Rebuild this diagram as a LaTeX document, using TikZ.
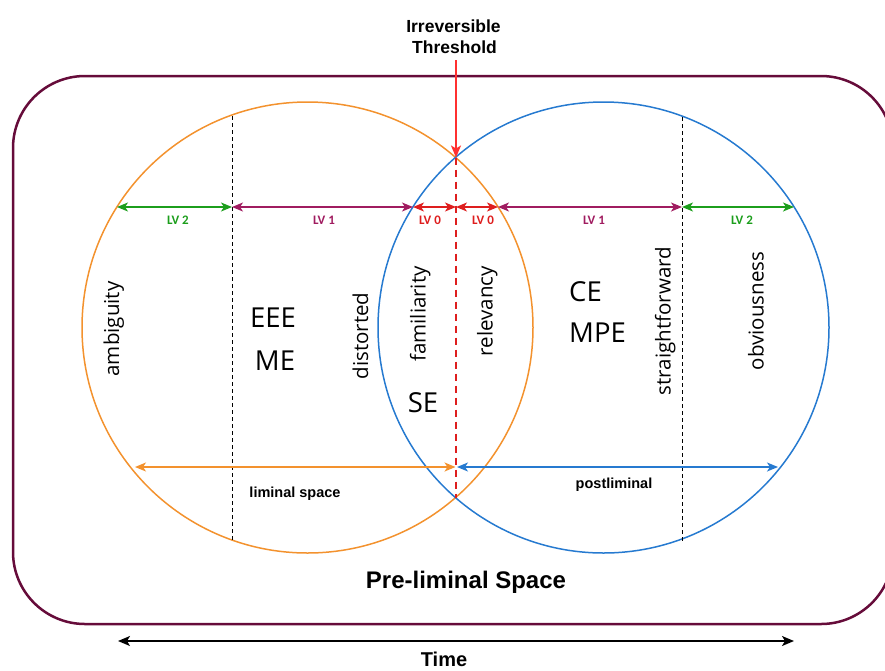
\documentclass[tikz,border=0pt]{standalone}
\usepackage{fontspec}
\setmainfont{Liberation Sans}
\newfontfamily\uifont{Open Sans}
\newfontfamily\lvfont{Carlito}
\usetikzlibrary{arrows.meta}

\definecolor{preC}{RGB}{243,146,46}
\definecolor{postC}{RGB}{38,122,208}
\definecolor{frameC}{RGB}{102,12,58}
\definecolor{lvtwoC}{RGB}{28,158,28}
\definecolor{lvoneC}{RGB}{160,28,96}
\definecolor{lvzeroC}{RGB}{222,30,30}
\definecolor{threshC}{RGB}{255,48,48}

\begin{document}
\begin{tikzpicture}[x=1pt,y=-1pt,
  ring/.style={draw, circle, minimum size=451pt, inner sep=0pt, line width=1.5pt},
  divider/.style={draw=black, dash pattern=on 4pt off 3pt, line width=1pt},
  span/.style={line width=1.6pt, {Stealth[length=11pt,width=9pt,inset=3pt]}-{Stealth[length=11pt,width=9pt,inset=3pt]}},
  lvlabel/.style={font=\lvfont\bfseries\fontsize{13}{15}\selectfont, anchor=base, inner sep=0pt},
  word/.style={font=\uifont\fontsize{20.5}{24}\selectfont, rotate=90, anchor=base, inner sep=0pt},
  code/.style={font=\uifont\fontsize{27.5}{32}\selectfont, anchor=base, inner sep=0pt},
  spacelabel/.style={font=\bfseries\fontsize{14.5}{17}\selectfont, anchor=base, inner sep=0pt},
  title/.style={font=\bfseries\fontsize{17.5}{20}\selectfont, anchor=base, inner sep=0pt}
]
\useasboundingbox (0,0) rectangle (885,670);
\clip (0,0) rectangle (885,670);

% outer frame: pre-liminal space
\draw[frameC, line width=2.5pt, rounded corners=72pt] (13,76) rectangle (893,624);

% the two phases
\node[ring, draw=preC] (pre) at (307.5,327.5) {};
\node[ring, draw=postC] (post) at (603.5,327.5) {};

% threshold
\coordinate (thTop) at (456,60);
\coordinate (thUp) at (456,157.5);
\coordinate (thDown) at (456,497.5);
\draw[threshC, line width=1.6pt, -{Stealth[length=12pt,width=10pt,inset=3pt]}] (thTop) -- (thUp);
\draw[lvzeroC, line width=2.5pt, dash pattern=on 7pt off 5pt] (thUp) -- (thDown);

% level dividers
\coordinate (dLtop) at (232,116);
\coordinate (dLbot) at (232,541);
\coordinate (dRtop) at (682,117);
\coordinate (dRbot) at (682,541);
\draw[divider] (dLtop) -- (dLbot);
\draw[divider] (dRtop) -- (dRbot);

% level spans
\coordinate (a0) at (117,207);
\coordinate (a1) at (232,207);
\coordinate (a2) at (413,207);
\coordinate (a3) at (456,207);
\coordinate (a4) at (498,207);
\coordinate (a5) at (682,207);
\coordinate (a6) at (794,207);
\draw[span, lvtwoC] (a0) -- (a1);
\draw[span, lvoneC] (a1) -- (a2);
\draw[span, lvzeroC] (a2) -- (a3);
\draw[span, lvzeroC] (a3) -- (a4);
\draw[span, lvoneC] (a4) -- (a5);
\draw[span, lvtwoC] (a5) -- (a6);

\node[lvlabel, text=lvtwoC] (lv2l) at (178,224) {LV 2};
\node[lvlabel, text=lvoneC] (lv1l) at (324,224) {LV 1};
\node[lvlabel, text=lvzeroC] (lv0l) at (430,224) {LV 0};
\node[lvlabel, text=lvzeroC] (lv0r) at (483,224) {LV 0};
\node[lvlabel, text=lvoneC] (lv1r) at (594,224) {LV 1};
\node[lvlabel, text=lvtwoC] (lv2r) at (742,224) {LV 2};

% vertical words
\node[word] (w1) at (119,329) {ambiguity};
\node[word] (w2) at (368,336) {distorted};
\node[word] (w3) at (425.5,314) {familiarity};
\node[word] (w4) at (492.5,311) {relevancy};
\node[word] (w5) at (670.5,321) {straightforward};
\node[word] (w6) at (763.5,311) {obviousness};

% emotion codes
\node[code] (eee) at (273,327) {EEE};
\node[code] (me) at (275,370) {ME};
\node[code] (se) at (423,412) {SE};
\node[code, anchor=base west] (ce) at (569,301) {CE};
\node[code, anchor=base west] (mpe) at (569,342) {MPE};

% liminal / postliminal spans
\coordinate (b0) at (135,467);
\coordinate (b1) at (455.5,467);
\coordinate (b2) at (457,467);
\coordinate (b3) at (778,467);
\draw[span, preC] (b0) -- (b1);
\draw[span, postC] (b2) -- (b3);
\node[spacelabel] (liminal) at (295,497) {liminal space};
\node[spacelabel] (postlim) at (614,488) {postliminal};

% titles
\node[title] (irr) at (453.5,32) {Irreversible};
\node[title] (thr) at (454.5,53) {Threshold};
\node[title, font=\bfseries\fontsize{24}{28}\selectfont] (prelim) at (466,588) {Pre-liminal Space};

% time axis
\coordinate (t0) at (118,641);
\coordinate (t1) at (794,641);
\draw[line width=1.4pt, {Stealth[length=12pt,width=10pt,inset=3pt]}-{Stealth[length=12pt,width=10pt,inset=3pt]}] (t0) -- (t1);
\node[title, font=\bfseries\fontsize{20}{24}\selectfont] (time) at (444,666) {Time};
\end{tikzpicture}
\end{document}
